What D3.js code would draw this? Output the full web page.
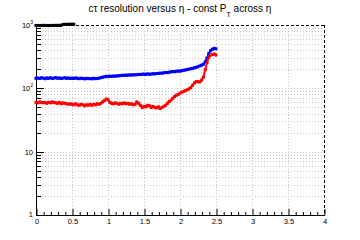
<!DOCTYPE html>
<html>
<head>
<meta charset="utf-8">
<script src="https://cdn.jsdelivr.net/npm/d3@7"></script>
<style>
  body { margin: 0; background: #fff; }
  svg { display: block; font-family: "Liberation Sans", Arial, sans-serif; }
</style>
</head>
<body>
<div id="chart"></div>
<script>
// eta bins, 0.025 wide
var etaStep = 0.025;

var blackVals = [980, 985, 978, 983, 987, 981, 984, 979, 986, 982, 985, 988, 984, 990, 986,
  1020, 1025, 1022, 1028, 1024, 1030, 1026];

var blueVals = [144, 146, 143, 147, 145, 142, 146, 144, 147, 143,
  145, 148, 144, 146, 143, 145, 147, 144, 146, 143,
  145, 143, 146, 144, 142, 145, 143, 141, 144, 142,
  143, 141, 144, 142, 143, 145, 147,
  150, 152, 155, 153, 156, 154, 157, 155, 158,
  157, 159, 161, 160, 162, 161, 163, 162, 164, 163,
  164, 166, 165, 167, 168, 166, 169, 167, 168, 170,
  169, 171, 172, 174, 173, 176, 178, 177, 180, 182,
  184, 183, 186, 188, 187, 190, 193, 195, 198, 201,
  204, 207, 211, 215, 220, 226, 232, 240,
  262, 300, 355, 395, 415, 428, 420];

var redVals = [60, 59, 61, 60, 59, 60, 58, 60, 59, 61,
  60, 59, 58, 60, 57, 59, 58, 57, 56, 57,
  56, 55, 57, 55, 54, 56, 55, 53, 55, 54,
  56, 54, 56, 55, 57, 56, 58,
  61, 64, 68, 66, 60,
  58, 57, 59, 58, 56, 58, 57, 59, 57, 58, 56, 57, 55, 56,
  61, 58, 54, 50, 52, 51, 54, 53, 50, 52,
  50, 49, 51, 48, 50, 52, 54, 58, 62, 65,
  70, 74, 78, 80, 84, 87, 89, 92, 95, 98,
  103, 112, 122, 128, 127, 126, 135, 150,
  195, 255, 310, 335, 342, 348, 335];

var xTicks = [0, 0.5, 1, 1.5, 2, 2.5, 3, 3.5, 4];
var xTickLabels = ["0", "0.5", "1", "1.5", "2", "2.5", "3", "3.5", "4"];

var svgWidth = 360, svgHeight = 240;
var margin = { top: 25, right: 36, bottom: 25, left: 36 };
var width = svgWidth - margin.left - margin.right;
var height = svgHeight - margin.top - margin.bottom;

var svg = d3.select("#chart").append("svg")
  .attr("width", svgWidth)
  .attr("height", svgHeight);

var g = svg.append("g")
  .attr("transform", `translate(${margin.left}, ${margin.top})`);

var x = d3.scaleLinear().domain([0, 4]).range([0, width]);
var y = d3.scaleLog().domain([1, 1000]).range([height, 0]);

// all log ticks (1..9 x 10^n)
var yAll = [];
[1, 10, 100].forEach(function (dec) {
  for (var k = 1; k <= 9; k++) yAll.push(k * dec);
});
yAll.push(1000);
var yMinor = yAll.filter(d => [1, 10, 100, 1000].indexOf(d) < 0);

// grid
g.selectAll(".gx").data(xTicks.slice(1, -1)).enter().append("line")
  .attr("x1", d => x(d) + 0.5).attr("x2", d => x(d) + 0.5)
  .attr("y1", 0).attr("y2", height)
  .attr("stroke", "#c8c8c8").attr("stroke-dasharray", "1,2");

g.selectAll(".gy").data(yAll.slice(1, -1)).enter().append("line")
  .attr("x1", 0).attr("x2", width)
  .attr("y1", d => Math.round(y(d)) + 0.5).attr("y2", d => Math.round(y(d)) + 0.5)
  .attr("stroke", "#c8c8c8").attr("stroke-dasharray", "1,2");

// dashed top and right frame
g.append("line").attr("x1", 0).attr("x2", width).attr("y1", 0.5).attr("y2", 0.5)
  .attr("stroke", "#000").attr("stroke-dasharray", "3,2");
g.append("line").attr("x1", width + 0.5).attr("x2", width + 0.5).attr("y1", 0).attr("y2", height)
  .attr("stroke", "#000").attr("stroke-dasharray", "3,2");

// axes
var bottomAxis = d3.axisBottom(x)
  .tickValues(d3.range(0, 41).map(i => i / 10))
  .tickSizeInner(0).tickSizeOuter(0).tickFormat("");
var xg = g.append("g").attr("transform", `translate(0, ${height})`).call(bottomAxis);
xg.select(".domain").remove();
g.append("line").attr("x1", 0).attr("x2", width + 1).attr("y1", height + 0.5).attr("y2", height + 0.5)
  .attr("stroke", "#000");
xg.selectAll(".tick").append("line")
  .attr("x1", 0.5).attr("x2", 0.5)
  .attr("y1", 0).attr("y2", d => (Math.abs(d * 2 - Math.round(d * 2)) < 1e-6) ? -6 : -3)
  .attr("stroke", "#000");

g.selectAll(".xl").data(xTicks).enter().append("text")
  .attr("x", d => x(d) + 1)
  .attr("y", height + 9)
  .attr("text-anchor", "middle")
  .attr("font-size", 7.5)
  .attr("fill", "#000")
  .text((d, i) => xTickLabels[i]);

var leftAxis = d3.axisLeft(y).tickValues(yAll).tickSize(0).tickFormat("");
var yg = g.append("g").call(leftAxis);
yg.select(".domain").remove();
g.append("line").attr("x1", 0.5).attr("x2", 0.5).attr("y1", 0).attr("y2", height + 1)
  .attr("stroke", "#000");
g.selectAll(".yt").data(yAll).enter().append("line")
  .attr("x1", 0).attr("x2", d => yMinor.indexOf(d) >= 0 ? 5 : 8)
  .attr("y1", d => Math.round(y(d)) + 0.5).attr("y2", d => Math.round(y(d)) + 0.5)
  .attr("stroke", "#000");

// y labels
var yl = g.append("g").attr("font-size", 7.5).attr("fill", "#000");
yl.append("text").attr("x", -3).attr("y", y(1) + 2).attr("text-anchor", "end").text("1");
yl.append("text").attr("x", -3).attr("y", y(10) + 3).attr("text-anchor", "end").text("10");
[[100, "2"], [1000, "3"]].forEach(function (p) {
  var t = yl.append("text").attr("x", -3).attr("y", y(p[0]) + 3).attr("text-anchor", "end");
  t.append("tspan").text("10");
  t.append("tspan").attr("font-size", 5).attr("dy", -4).text(p[1]);
});

// series: thin joining line plus square markers
function drawSeries(vals, color) {
  var sg = g.append("g");
  sg.append("path")
    .datum(vals)
    .attr("fill", "none")
    .attr("stroke", color)
    .attr("stroke-width", 2)
    .attr("d", d3.line().x((d, i) => x(i * etaStep)).y(d => y(d)));
  sg.selectAll("rect").data(vals).enter().append("rect")
    .attr("x", (d, i) => x(i * etaStep) - 1.5)
    .attr("y", d => y(d) - 1.5)
    .attr("width", 3).attr("height", 3)
    .attr("fill", color);
}
drawSeries(blackVals, "#000");
drawSeries(blueVals, "#0000ff");
drawSeries(redVals, "#ff0000");

// title
var title = svg.append("text")
  .attr("x", 180).attr("y", 12)
  .attr("text-anchor", "middle")
  .attr("font-size", 10)
  .attr("fill", "#000");
title.append("tspan").text("cτ resolution versus η - const P");
title.append("tspan").attr("font-size", 7).attr("dy", 5).text("T");
title.append("tspan").attr("dy", -5).text(" across η");
</script>
</body>
</html>
